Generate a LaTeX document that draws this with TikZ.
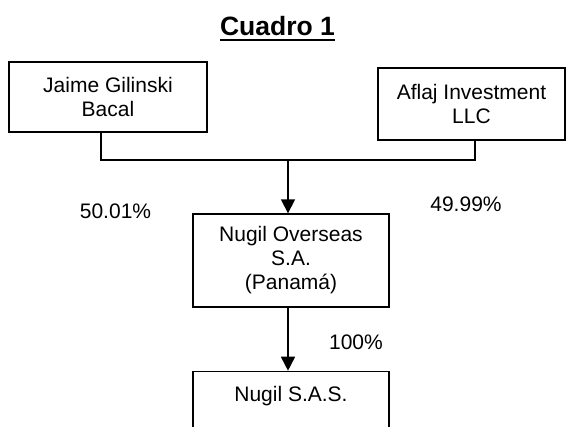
\documentclass[tikz,border=0pt]{standalone}
\usepackage{fontspec}
\setmainfont{Liberation Sans}
\usetikzlibrary{arrows.meta,positioning,calc}

\begin{document}
\begin{tikzpicture}[
    x=1pt, y=-1pt,
    font=\fontsize{21}{24}\selectfont,
    >={Triangle[width=14pt,length=14pt]},
    block/.style={
        rectangle, draw=black, line width=1.4pt,
        align=center, inner sep=0pt,
        minimum width=196pt,  % same width for the lower boxes
        minimum height=70pt
    },
    link/.style={line width=1.4pt},
    arrow/.style={->, line width=1.8pt},
    share/.style={inner sep=0pt},
]
  \useasboundingbox (0,0) rectangle (566,427);

  %––– Title –––––––––––––––––––––––––––––––––––––––––––––––
  \node (title) [font=\fontsize{26.5}{30}\selectfont\bfseries, inner sep=0pt, anchor=base] at (277.5,36) {Cuadro 1};
  \draw[line width=2pt] ($(title.base west)+(0,4)$) -- ($(title.base east)+(0,4)$);

  %––– Shareholders ––––––––––––––––––––––––––––––––––––––––
  \node (jaime) [block, minimum width=198pt] at (108,97) {Jaime Gilinski\\Bacal};
  \node (aflaj) [block, minimum width=187pt, minimum height=72pt] at (471.5,104) {Aflaj Investment\\LLC};

  % Junction points of the ownership line
  \coordinate (joinL) at (101,160);
  \coordinate (joinR) at (475,160);
  \coordinate (joinM) at (288,160);

  %––– Companies –––––––––––––––––––––––––––––––––––––––––––
  \node (overseas) [block, minimum height=93pt] at (291,260.5) {Nugil Overseas\\S.A.\\(Panamá)};
  \node (sas) [block, below=63pt of overseas, minimum height=0pt,
        text height=15pt, text depth=60pt, inner ysep=15pt] {Nugil S.A.S.};

  %––– Percentages –––––––––––––––––––––––––––––––––––––––––
  \node (pctL) [share] at (115.5,211) {50.01\%};
  \node (pctR) [share] at (466,204) {49.99\%};
  \node (pctB) [share] at (356,342) {100\%};

  %––– Connectors ––––––––––––––––––––––––––––––––––––––––––
  \draw[link] (jaime.south -| joinL) -- (joinL) -- (joinR) -- (aflaj.south -| joinR);
  \draw[arrow] (joinM) -- (joinM |- overseas.north);
  \draw[arrow] (overseas.south -| joinM) -- (sas.north -| joinM);
\end{tikzpicture}
\end{document}
